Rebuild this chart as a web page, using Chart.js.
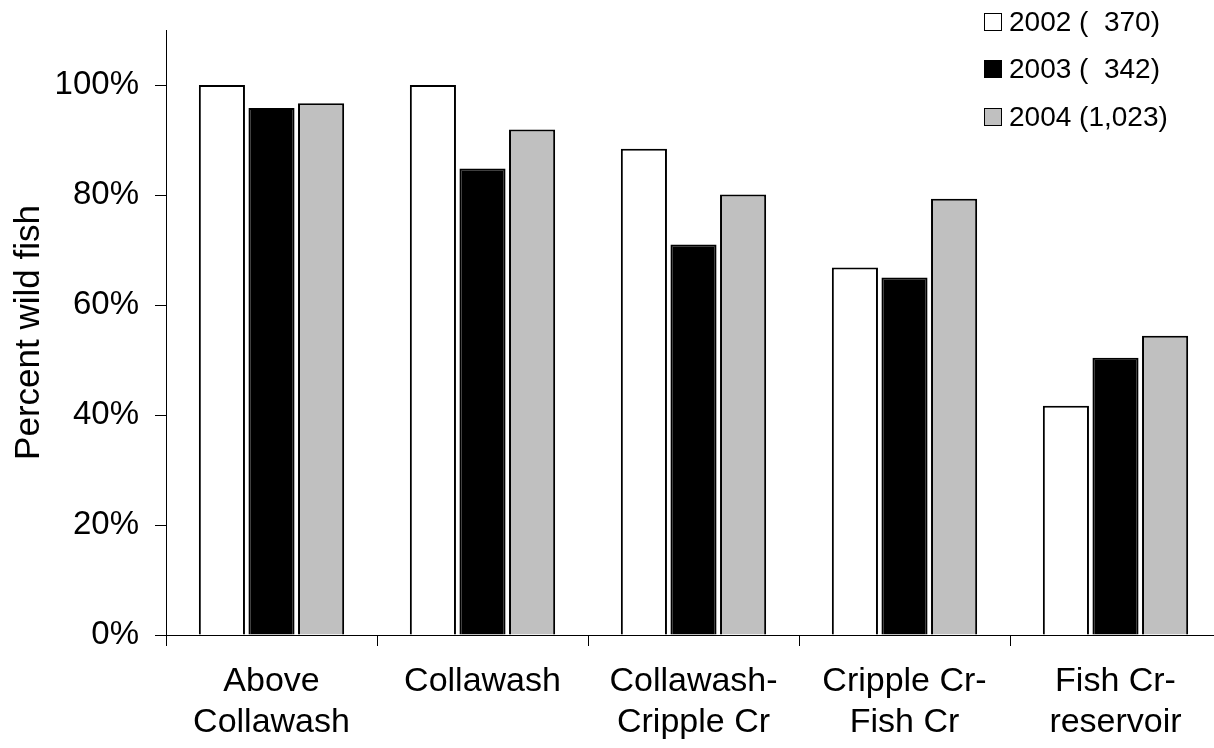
<!DOCTYPE html>
<html>
<head>
<meta charset="utf-8">
<script src="https://cdn.jsdelivr.net/npm/chart.js@4/dist/chart.umd.min.js"></script>
<style>
  html, body { margin: 0; padding: 0; background: #fff; overflow: hidden; }
  #wrap { position: relative; width: 1222px; height: 748px; }
  #legend { position: absolute; left: 984px; top: -2px; font-family: "Liberation Sans", Arial, sans-serif; font-size: 28px; color: #000; }
  .row { display: flex; align-items: center; height: 47.5px; white-space: pre; }
  .box { width: 16px; height: 16px; border: 1.5px solid #000; margin-right: 7px; }
</style>
</head>
<body>
<div id="wrap">
  <canvas id="myChart" width="1222" height="748"></canvas>
  <div id="legend"></div>
</div>
<script>
// categories (two line labels)
const sites = [
  ['Above', 'Collawash'],
  'Collawash',
  ['Collawash-', 'Cripple Cr'],
  ['Cripple Cr-', 'Fish Cr'],
  ['Fish Cr-', 'reservoir']
];

// series names as shown in the legend
const seriesNames = ['2002 (  370)', '2003 (  342)', '2004 (1,023)'];

// percent wild fish
const pct2002 = [100, 100, 88.4, 66.8, 41.7];
const pct2003 = [95.8, 84.8, 71.0, 65.0, 50.4];
const pct2004 = [96.7, 91.9, 80.1, 79.3, 54.4];

const fills = ['#ffffff', '#000000', '#c0c0c0'];

const fontName = '"Liberation Sans", Arial, sans-serif';

let allData = [pct2002, pct2003, pct2004];

let datasets = allData.map((vals, i) => {
  return {
    label: seriesNames[i],
    data: vals,
    backgroundColor: fills[i],
    borderColor: '#000',
    borderWidth: 2,
    borderSkipped: 'bottom',
    categoryPercentage: 0.705,
    barPercentage: 0.93
  };
});

const myChart = document.getElementById('myChart');

let barChart = new Chart(myChart, {
  type: 'bar',
  data: {
    labels: sites,
    datasets: datasets
  },
  options: {
    responsive: false,
    animation: false,
    layout: { padding: { top: 30, right: 1, left: 0, bottom: 0 } },
    plugins: {
      legend: { display: false },
      tooltip: { enabled: false }
    },
    scales: {
      x: {
        grid: { display: true, drawOnChartArea: false, offset: true, color: '#000', tickLength: 11, tickWidth: 1 },
        border: { color: '#000', width: 1 },
        ticks: {
          color: '#000',
          font: { family: fontName, size: 34, lineHeight: 1.18 },
          padding: 16,
          maxRotation: 0,
          autoSkip: false
        },
        afterFit: function(scale) { scale.height = 113; }
      },
      y: {
        min: 0,
        max: 110,
        grid: { display: true, drawOnChartArea: false, color: '#000', tickLength: 11 },
        border: { color: '#000', width: 1 },
        ticks: {
          stepSize: 20,
          includeBounds: false,
          color: '#000',
          font: { family: fontName, size: 33 },
          padding: 16,
          callback: v => v + '%'
        },
        title: {
          display: true,
          text: 'Percent wild fish',
          color: '#000',
          font: { family: fontName, size: 35 },
          padding: { top: 8, bottom: 0 }
        },
        afterFit: function(scale) {
          scale.width = 166;
          // top label is 100%, not the axis max, so no extra room needed
          scale.paddingTop = 0;
          scale.paddingBottom = 0;
        }
      }
    }
  }
});

// legend in the top right corner
const legend = document.getElementById('legend');
seriesNames.forEach((name, i) => {
  const row = document.createElement('div');
  row.className = 'row';
  const box = document.createElement('div');
  box.className = 'box';
  box.style.background = fills[i];
  const txt = document.createElement('span');
  txt.textContent = name;
  row.appendChild(box);
  row.appendChild(txt);
  legend.appendChild(row);
});
</script>
</body>
</html>
